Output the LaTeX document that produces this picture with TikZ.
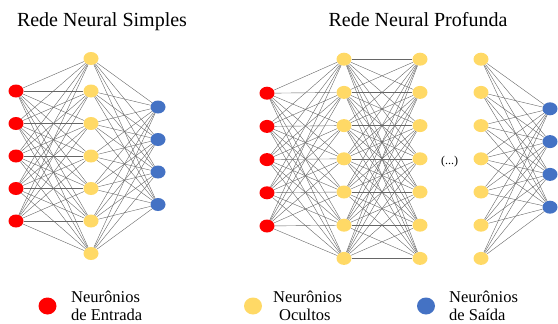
\documentclass[tikz,border=0pt]{standalone}
\usepackage{fontspec}
\setmainfont{Liberation Serif}
\usetikzlibrary{shapes.geometric}

\definecolor{inred}{HTML}{FF0000}
\definecolor{hidyellow}{HTML}{FFD966}
\definecolor{outblue}{HTML}{4472C4}

\begin{document}
\begin{tikzpicture}[x=1pt,y=-1pt,
    neuron/.style={ellipse,minimum width=15pt,minimum height=13pt,inner sep=0pt},
    inneuron/.style={neuron,fill=inred},
    hidneuron/.style={neuron,fill=hidyellow},
    outneuron/.style={neuron,fill=outblue},
    legneuron/.style={neuron,minimum width=18pt,minimum height=17pt},
    link/.style={black!60,line width=0.4pt},
    nettitle/.style={font=\fontsize{20}{24}\selectfont},
    legtext/.style={font=\fontsize{16.5}{18}\selectfont,anchor=west,inner sep=0pt}]
    \useasboundingbox (0,0) rectangle (558,324);

    % Simple network: 5 inputs, 7 hidden, 4 outputs
    \node[nettitle] (tsimple) at (102,22) {Rede Neural Simples};
    \foreach \i in {1,...,5}
        \node[inneuron] (sa\i) at (16,{58.5+32.5*\i}) {};
    \foreach \j in {1,...,7}
        \node[hidneuron] (sb\j) at (91,{26+32.5*\j}) {};
    \foreach \k in {1,...,4}
        \node[outneuron] (sc\k) at (158,{74.5+32.5*\k}) {};

    \foreach \i in {1,...,5}
        \foreach \j in {1,...,7}
            \draw[link] (sa\i) -- (sb\j);
    \foreach \j in {1,...,7}
        \foreach \k in {1,...,4}
            \draw[link] (sb\j) -- (sc\k);

    % Deep network: 5 inputs, 3 hidden layers shown, 4 outputs
    \node[nettitle] (tdeep) at (418,20) {Rede Neural Profunda};
    \foreach \i in {1,...,5}
        \node[inneuron] (da\i) at (267,{60+33.2*\i}) {};
    \foreach \j in {1,...,7} {
        \node[hidneuron] (db\j) at (344,{26+33.2*\j}) {};
        \node[hidneuron] (dc\j) at (420,{26+33.2*\j}) {};
        \node[hidneuron] (dd\j) at (481,{26+33.2*\j}) {};
    }
    \foreach \k in {1,...,4}
        \node[outneuron] (de\k) at (550,{76+32.8*\k}) {};
    \node[font=\fontsize{12}{14}\selectfont] (dots) at (449.5,162) {(...)};

    \foreach \i in {1,...,5}
        \foreach \j in {1,...,7}
            \draw[link] (da\i) -- (db\j);
    \foreach \i in {1,...,7}
        \foreach \j in {1,...,7}
            \draw[link] (db\i) -- (dc\j);
    \foreach \j in {1,...,7}
        \foreach \k in {1,...,4}
            \draw[link] (dd\j) -- (de\k);

    % Legend
    \node[legneuron,fill=inred] (lin) at (47.5,306) {};
    \node[legtext,align=left] (lintext) at (71,306) {Neurônios\\de Entrada};
    \node[legneuron,fill=hidyellow] (lhid) at (253,306) {};
    \node[legtext,align=left] (lhidtext) at (273,306) {Neurônios\\\hspace*{6pt}Ocultos};
    \node[legneuron,fill=outblue] (lout) at (426,306) {};
    \node[legtext,align=left] (louttext) at (449,306) {Neurônios\\de Saída};
\end{tikzpicture}
\end{document}
